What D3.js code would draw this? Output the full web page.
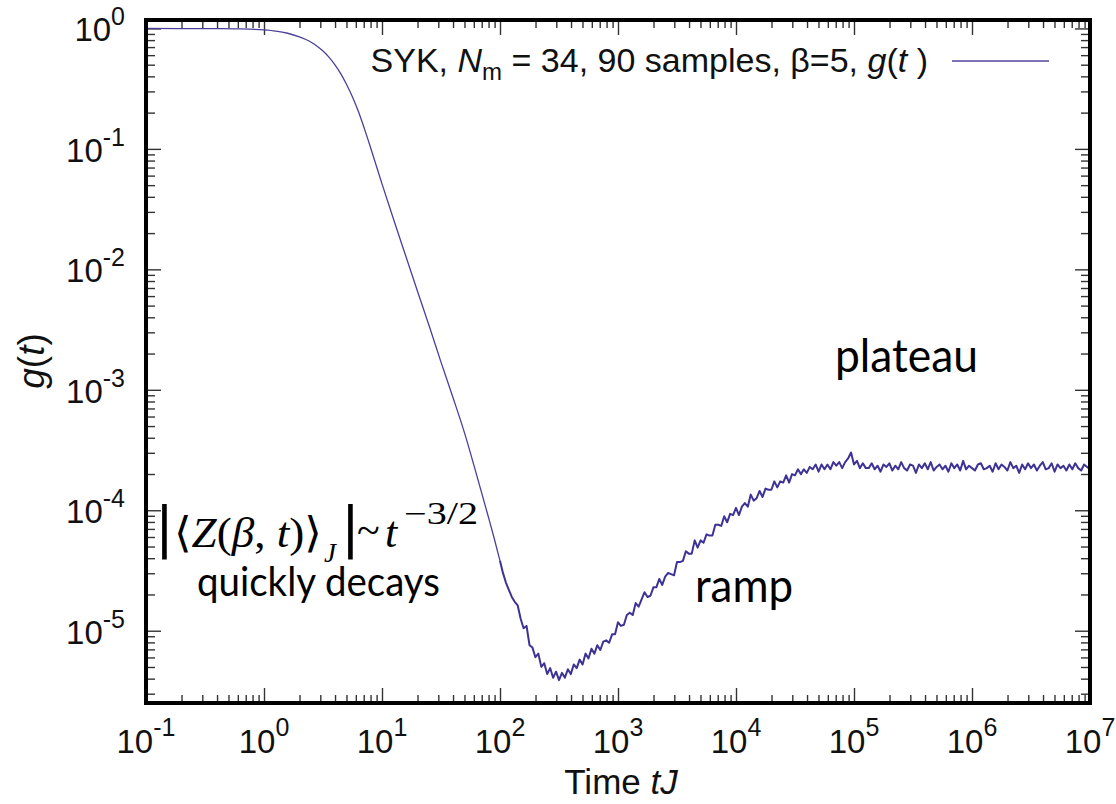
<!DOCTYPE html>
<html><head><meta charset="utf-8">
<script src="https://cdn.jsdelivr.net/npm/d3@7"></script>
<style>body{margin:0;background:#fff}</style>
</head><body>
<svg id="c" width="1116" height="804"></svg>
<script>
// ---------- data (pairs: [log10(tJ), log10 g(t)]) ----------
const xTickExps = [-1, 0, 1, 2, 3, 4, 5, 6, 7];
const yTickExps = [0, -1, -2, -3, -4, -5];

const earlyDecay = [
  [-1.0, 0.000], [-0.7, -0.001], [-0.4, -0.002], [-0.2, -0.004], [0.0, -0.012],
  [0.1, -0.022], [0.2, -0.040], [0.3, -0.070], [0.35, -0.090], [0.4, -0.115],
  [0.45, -0.148], [0.5, -0.188], [0.55, -0.238], [0.6, -0.300], [0.65, -0.375],
  [0.7, -0.465], [0.75, -0.57], [0.8, -0.69], [0.85, -0.83], [0.9, -0.98],
  [1.0, -1.29], [1.1, -1.59], [1.2, -1.885], [1.3, -2.18], [1.4, -2.47],
  [1.5, -2.77], [1.6, -3.06], [1.7, -3.36], [1.8, -3.70], [1.9, -4.05], [1.95, -4.23]
];

const dipRegion = [
  [2.000, -4.42], [2.025, -4.52], [2.050, -4.60], [2.075, -4.66], [2.100, -4.72],
  [2.125, -4.76], [2.150, -4.79], [2.175, -4.90], [2.200, -4.98], [2.225, -4.96],
  [2.250, -5.12], [2.275, -5.14], [2.300, -5.22], [2.325, -5.19], [2.350, -5.30],
  [2.375, -5.27], [2.400, -5.36], [2.425, -5.31], [2.450, -5.39], [2.475, -5.34],
  [2.500, -5.41], [2.525, -5.35], [2.550, -5.39], [2.575, -5.32], [2.600, -5.36],
  [2.625, -5.28], [2.650, -5.31], [2.675, -5.24], [2.700, -5.28], [2.725, -5.19],
  [2.750, -5.23], [2.775, -5.15], [2.800, -5.19], [2.825, -5.12], [2.850, -5.16],
  [2.875, -5.09]
];

const rampRegion = [
  [2.900, -5.08], [2.925, -5.10], [2.950, -5.03], [2.975, -5.03], [3.000, -4.93],
  [3.025, -4.96], [3.050, -4.95], [3.075, -4.87], [3.100, -4.85], [3.125, -4.87],
  [3.150, -4.77], [3.175, -4.80], [3.200, -4.74], [3.225, -4.68], [3.250, -4.72],
  [3.275, -4.71], [3.300, -4.64], [3.325, -4.64], [3.350, -4.57], [3.375, -4.62],
  [3.400, -4.55], [3.425, -4.52], [3.450, -4.53], [3.475, -4.54], [3.500, -4.43],
  [3.525, -4.43], [3.550, -4.42], [3.575, -4.34], [3.600, -4.36], [3.625, -4.36],
  [3.650, -4.25], [3.675, -4.31], [3.700, -4.25], [3.725, -4.27], [3.750, -4.20],
  [3.775, -4.21], [3.800, -4.21], [3.825, -4.12], [3.850, -4.12], [3.875, -4.13],
  [3.900, -4.05], [3.925, -4.10], [3.950, -4.03], [3.975, -4.04], [4.000, -3.98],
  [4.025, -4.04], [4.050, -3.97], [4.075, -3.94], [4.100, -3.97], [4.125, -3.87],
  [4.150, -3.92], [4.175, -3.90], [4.200, -3.84], [4.225, -3.89], [4.250, -3.82],
  [4.275, -3.83], [4.300, -3.83], [4.325, -3.76], [4.350, -3.81], [4.375, -3.76],
  [4.400, -3.77], [4.425, -3.71], [4.450, -3.77], [4.475, -3.70], [4.500, -3.71],
  [4.525, -3.66], [4.550, -3.70], [4.575, -3.66], [4.600, -3.69], [4.625, -3.64],
  [4.650, -3.66], [4.675, -3.62], [4.700, -3.68], [4.725, -3.62], [4.750, -3.66],
  [4.775, -3.62], [4.800, -3.66], [4.825, -3.60], [4.850, -3.63], [4.875, -3.60],
  [4.900, -3.65], [4.925, -3.60], [4.950, -3.57], [4.975, -3.52], [5.000, -3.62],
  [5.025, -3.59], [5.050, -3.65], [5.075, -3.61], [5.100, -3.65]
];

const plateauRegion = [
  [5.125, -3.65], [5.150, -3.61], [5.175, -3.66], [5.200, -3.63], [5.225, -3.68],
  [5.250, -3.62], [5.275, -3.64], [5.300, -3.61], [5.325, -3.67], [5.350, -3.63],
  [5.375, -3.66], [5.400, -3.60], [5.425, -3.65], [5.450, -3.67], [5.475, -3.62],
  [5.500, -3.63], [5.525, -3.69], [5.550, -3.62], [5.575, -3.65], [5.600, -3.61],
  [5.625, -3.66], [5.650, -3.60], [5.675, -3.67], [5.700, -3.64], [5.725, -3.62],
  [5.750, -3.66], [5.775, -3.63], [5.800, -3.68], [5.825, -3.61], [5.850, -3.65],
  [5.875, -3.62], [5.900, -3.67], [5.925, -3.59], [5.950, -3.66], [5.975, -3.63],
  [6.000, -3.65], [6.025, -3.67], [6.050, -3.62], [6.075, -3.61], [6.100, -3.66],
  [6.125, -3.65], [6.150, -3.63], [6.175, -3.68], [6.200, -3.61], [6.225, -3.66],
  [6.250, -3.62], [6.275, -3.64], [6.300, -3.67], [6.325, -3.60], [6.350, -3.65],
  [6.375, -3.63], [6.400, -3.69], [6.425, -3.62], [6.450, -3.66], [6.475, -3.61],
  [6.500, -3.65], [6.525, -3.62], [6.550, -3.67], [6.575, -3.63], [6.600, -3.60],
  [6.625, -3.66], [6.650, -3.65], [6.675, -3.61], [6.700, -3.68], [6.725, -3.62],
  [6.750, -3.65], [6.775, -3.63], [6.800, -3.67], [6.825, -3.62], [6.850, -3.66],
  [6.875, -3.61], [6.900, -3.65], [6.925, -3.67], [6.950, -3.62], [6.975, -3.64],
  [7.000, -3.66]
];

// ---------- layout ----------
const L = 146, R = 1090, T = 20, B = 703;
const svg = d3.select("#c");
const x = d3.scaleLog().domain([1e-1, 1e7]).range([L, R]);
const y = d3.scaleLog().domain([Math.pow(10, -5.6), Math.pow(10, 0.07)]).range([B, T]);

const toPt = d => ({t: Math.pow(10, d[0]), g: Math.pow(10, d[1])});
const smoothSeries = earlyDecay.concat([dipRegion[0]]).map(toPt);
const noisySeries = [].concat(dipRegion, rampRegion, plateauRegion).map(toPt);

const xAll = x.ticks(30);
const yAll = y.ticks(30);
const isMajor = v => Math.abs(Math.log10(v) - Math.round(Math.log10(v))) < 1e-9;
const xMinor = xAll.filter(v => !isMajor(v)), xMajor = xAll.filter(isMajor);
const yMinor = yAll.filter(v => !isMajor(v)), yMajor = yAll.filter(isMajor);

const tickColor = "#333";
function addAxis(gen, tx, ty) {
  const g = svg.append("g").attr("transform", `translate(${tx},${ty})`).call(gen);
  g.select(".domain").remove();
  g.selectAll(".tick line").attr("stroke", tickColor).attr("stroke-width", 1.4);
  g.selectAll("text").remove();
}
addAxis(d3.axisBottom(x).tickValues(xMinor).tickSize(-8).tickFormat(""), 0, B);
addAxis(d3.axisBottom(x).tickValues(xMajor).tickSize(-15).tickFormat(""), 0, B);
addAxis(d3.axisTop(x).tickValues(xMinor).tickSize(-8).tickFormat(""), 0, T);
addAxis(d3.axisTop(x).tickValues(xMajor).tickSize(-15).tickFormat(""), 0, T);
addAxis(d3.axisLeft(y).tickValues(yMinor).tickSize(-9).tickFormat(""), L, 0);
addAxis(d3.axisLeft(y).tickValues(yMajor).tickSize(-15).tickFormat(""), L, 0);
addAxis(d3.axisRight(y).tickValues(yMinor).tickSize(-9).tickFormat(""), R, 0);
addAxis(d3.axisRight(y).tickValues(yMajor).tickSize(-15).tickFormat(""), R, 0);

// data line
svg.append("defs").append("clipPath").attr("id", "clip")
  .append("rect").attr("x", L).attr("y", T).attr("width", R - L).attr("height", B - T);
const smoothLine = d3.line().x(d => x(d.t)).y(d => y(d.g)).curve(d3.curveMonotoneX);
const noisyLine = d3.line().x(d => x(d.t)).y(d => y(d.g)).curve(d3.curveLinear);
svg.append("path").datum(smoothSeries).attr("d", smoothLine)
  .attr("clip-path", "url(#clip)")
  .attr("fill", "none").attr("stroke", "#4a409c").attr("stroke-width", 1.3);
svg.append("path").datum(noisySeries).attr("d", noisyLine)
  .attr("clip-path", "url(#clip)")
  .attr("fill", "none").attr("stroke", "#3d3394").attr("stroke-width", 2)
  .attr("stroke-linejoin", "round");

// frame
svg.append("rect").attr("x", L).attr("y", T).attr("width", R - L).attr("height", B - T)
  .attr("fill", "none").attr("stroke", "#000").attr("stroke-width", 4);

// tick labels
const labFont = "'Liberation Sans', Arial, sans-serif";
xTickExps.forEach(e => {
  const t = svg.append("text").attr("x", x(Math.pow(10, e))).attr("y", 753)
    .attr("text-anchor", "middle").attr("font-family", labFont).attr("font-size", 33).attr("fill", "#111");
  t.append("tspan").text("10");
  t.append("tspan").attr("dy", -17).attr("font-size", 25).text(e < 0 ? "-" + (-e) : String(e));
});
yTickExps.forEach(e => {
  const yy = y(Math.pow(10, e));
  const t = svg.append("text").attr("x", 125).attr("y", yy + 13)
    .attr("text-anchor", "end").attr("font-family", labFont).attr("font-size", 33).attr("fill", "#111");
  t.append("tspan").text("10");
  t.append("tspan").attr("dy", -16).attr("font-size", 25).text(e < 0 ? "-" + (-e) : String(e));
});

// axis titles
const xt = svg.append("text").attr("x", 621).attr("y", 794).attr("text-anchor", "middle")
  .attr("font-family", labFont).attr("font-size", 35).attr("fill", "#111");
xt.append("tspan").text("Time ");
xt.append("tspan").attr("font-style", "italic").text("tJ");

const yt = svg.append("text").attr("transform", "translate(44,361) rotate(-90)").attr("text-anchor", "middle")
  .attr("font-family", labFont).attr("font-size", 37).attr("fill", "#111");
yt.append("tspan").attr("font-style", "italic").text("g");
yt.append("tspan").text("(");
yt.append("tspan").attr("font-style", "italic").text("t");
yt.append("tspan").text(")");

// legend
const lg = svg.append("text").attr("x", 928).attr("y", 72).attr("text-anchor", "end")
  .attr("font-family", labFont).attr("font-size", 34).attr("fill", "#111");
lg.append("tspan").text("SYK, ");
lg.append("tspan").attr("font-style", "italic").text("N");
lg.append("tspan").attr("dy", 8).attr("font-size", 24).text("m");
lg.append("tspan").attr("dy", -8).text(" = 34, 90 samples, β=5, ");
lg.append("tspan").attr("font-style", "italic").text("g");
lg.append("tspan").text("(");
lg.append("tspan").attr("font-style", "italic").text("t");
lg.append("tspan").text(" )");
svg.append("line").attr("x1", 952).attr("x2", 1049).attr("y1", 61).attr("y2", 61)
  .attr("stroke", "#7d74b6").attr("stroke-width", 2.2);

// annotations
const annFont = "Lato, 'Open Sans', sans-serif";
svg.append("text").attr("x", 835).attr("y", 372).attr("font-family", annFont)
  .attr("font-size", 46).attr("textLength", 143).attr("lengthAdjust", "spacingAndGlyphs").text("plateau");
svg.append("text").attr("x", 695).attr("y", 602).attr("font-family", annFont)
  .attr("font-size", 46).attr("textLength", 98).attr("lengthAdjust", "spacingAndGlyphs").text("ramp");
svg.append("text").attr("x", 197).attr("y", 596).attr("font-family", annFont)
  .attr("font-size", 40).attr("textLength", 243).attr("lengthAdjust", "spacingAndGlyphs").text("quickly decays");

// formula |<Z(β,t)>_J| ~ t^{-3/2}
const mathFont = "'Liberation Serif', 'DejaVu Serif', serif";
const bar = (xx) => svg.append("text").attr("x", xx).attr("y", 546)
  .attr("font-family", "'DejaVu Sans', sans-serif").attr("font-size", 56).text("|");
bar(155);
const f1 = svg.append("text").attr("x", 174).attr("y", 547).attr("font-family", mathFont)
  .attr("font-size", 42).attr("textLength", 148).attr("lengthAdjust", "spacingAndGlyphs");
f1.append("tspan").text("⟨");
f1.append("tspan").attr("font-style", "italic").text("Z");
f1.append("tspan").text("(");
f1.append("tspan").attr("font-style", "italic").text("β");
f1.append("tspan").text(", ");
f1.append("tspan").attr("font-style", "italic").text("t");
f1.append("tspan").text(")⟩");
svg.append("text").attr("x", 324).attr("y", 562).attr("font-family", mathFont)
  .attr("font-style", "italic").attr("font-size", 27).text("J");
bar(341);
svg.append("text").attr("x", 357).attr("y", 544).attr("font-family", mathFont).attr("font-size", 42).text("~");
svg.append("text").attr("x", 385).attr("y", 547).attr("font-family", mathFont)
  .attr("font-style", "italic").attr("font-size", 44).text("t");
svg.append("text").attr("x", 404).attr("y", 524).attr("font-family", mathFont)
  .attr("font-size", 31).attr("textLength", 74).attr("lengthAdjust", "spacingAndGlyphs").text("−3/2");
</script>
</body></html>
